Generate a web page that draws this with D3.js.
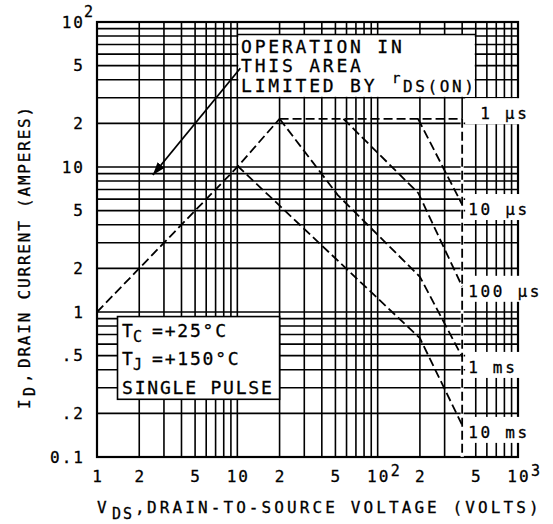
<!DOCTYPE html>
<html lang="en">
<head>
<meta charset="UTF-8">
<title>Maximum Rated Forward Biased Safe Operating Area</title>
<script src="https://d3js.org/d3.v7.min.js"></script>
<style>
  body { margin: 0; background: #fff; }
  text { font-family: "DejaVu Sans Mono", monospace; fill: #000; stroke: #000; stroke-width: 0.3; }
</style>
</head>
<body>
<div id="chart"></div>
<script>
// axis ticks (labels use "|" to split base and exponent)
const xTicks = [1, 2, 5, 10, 20, 50, 100, 200, 500, 1000];
const xTickLabels = ["1", "2", "5", "10", "2", "5", "10|2", "2", "5", "10|3"];
const yTicks = [100, 50, 20, 10, 5, 2, 1, 0.5, 0.2, 0.1];
const yTickLabels = ["10|2", "5", "2", "10", "5", "2", "1", ".5", ".2", "0.1"];

// rDS(on) limit line
const rdsV = [1, 10, 20];
const rdsI = [1, 10, 21.5];
// pulse-width curves (volts, amperes)
const curveNames = ["1 µs", "10 µs", "100 µs", "1 ms", "10 ms"];
const us1V = [20, 400];
const us1I = [21.5, 21.5];
const us10V = [194, 400];
const us10I = [21.5, 5.5];
const us100V = [57, 195, 400];
const us100I = [21.5, 6.6, 1.5];
const ms1V = [20, 52, 200, 400];
const ms1I = [21.5, 6.4, 1.75, 0.49];
const ms10V = [10, 200, 400];
const ms10I = [10.2, 0.66, 0.166];
// BVdss limit (vertical) and label anchors
const vMax = 400;
const iFloor = 0.1;
const labelI = [23.5, 5.13, 1.40, 0.418, 0.149];

const width = 553, height = 524;
const x = d3.scaleLog().domain([1, 1000]).range([97, 518]);
const y = d3.scaleLog().domain([0.1, 100]).range([457, 22]);

const svg = d3.select("#chart").append("svg")
    .attr("width", width)
    .attr("height", height);

// grid
const grid = svg.append("g").attr("stroke", "#000").attr("stroke-width", 1.6);
grid.selectAll(".gx").data(x.ticks()).join("line")
    .attr("x1", d => x(d)).attr("x2", d => x(d))
    .attr("y1", y(100)).attr("y2", y(0.1));
grid.selectAll(".gy").data(y.ticks()).join("line")
    .attr("x1", x(1)).attr("x2", x(1000))
    .attr("y1", d => y(d)).attr("y2", d => y(d));

// white area behind "operation in this area" note
svg.append("rect")
    .attr("x", x(10) + 1).attr("y", y(82))
    .attr("width", x(500) - x(10) - 2).attr("height", y(30) - y(82) - 1)
    .attr("fill", "#fff");
svg.append("line")
    .attr("x1", x(10)).attr("x2", x(500))
    .attr("y1", y(82)).attr("y2", y(82))
    .attr("stroke", "#000").attr("stroke-width", 1.6);

// frame
svg.append("rect")
    .attr("x", x(1)).attr("y", y(100))
    .attr("width", x(1000) - x(1)).attr("height", y(0.1) - y(100))
    .attr("fill", "none").attr("stroke", "#000").attr("stroke-width", 2.2);

// condition box
svg.append("rect")
    .attr("x", x(1.4)).attr("y", y(0.93))
    .attr("width", x(20) - x(1.4)).attr("height", y(0.25) - y(0.93))
    .attr("fill", "#fff").attr("stroke", "#000").attr("stroke-width", 1.6);

// white boxes behind curve labels
svg.selectAll(".lbox").data(labelI).join("rect")
    .attr("x", x(vMax) + 3).attr("y", d => y(d) - 15)
    .attr("width", width - x(vMax) - 3).attr("height", 26)
    .attr("fill", "#fff");

const line = d3.line().x(d => x(d[0])).y(d => y(d[1]));
const curves = [
    [rdsV, rdsI], [us1V, us1I], [us10V, us10I],
    [us100V, us100I], [ms1V, ms1I], [ms10V, ms10I]
];

// vertical voltage limit, hide the grid under it
svg.append("line")
    .attr("x1", x(vMax)).attr("x2", x(vMax))
    .attr("y1", y(us1I[1])).attr("y2", y(iFloor))
    .attr("stroke", "#fff").attr("stroke-width", 3);
svg.append("path")
    .attr("d", line([[vMax, us1I[1]], [vMax, iFloor]]))
    .attr("fill", "none").attr("stroke", "#000")
    .attr("stroke-width", 1.8).attr("stroke-dasharray", "9,4");

svg.selectAll(".curve").data(curves).join("path")
    .attr("d", c => line(c[0].map((v, i) => [v, c[1][i]])))
    .attr("fill", "none")
    .attr("stroke", "#000")
    .attr("stroke-width", 1.8)
    .attr("stroke-dasharray", "9,4");

// arrow
svg.append("defs").append("marker")
    .attr("id", "arr")
    .attr("markerUnits", "userSpaceOnUse")
    .attr("markerWidth", 14).attr("markerHeight", 10)
    .attr("refX", 13).attr("refY", 4.5)
    .attr("orient", "auto")
    .append("path").attr("d", "M0,0 L13,4.5 L0,9 Z").attr("fill", "#000");
svg.append("line")
    .attr("x1", x(10.5)).attr("y1", y(48))
    .attr("x2", x(2.5)).attr("y2", y(8.8))
    .attr("stroke", "#000").attr("stroke-width", 1.8)
    .attr("marker-end", "url(#arr)");

// y tick labels
yTicks.forEach((v, i) => {
    const [base, exp] = yTickLabels[i].split("|");
    svg.append("text")
        .attr("x", 85).attr("y", y(v)).attr("dy", "0.36em")
        .attr("text-anchor", "end")
        .attr("font-size", 16).attr("letter-spacing", 2)
        .text(base);
    if (exp) {
        svg.append("text")
            .attr("x", 84).attr("y", y(v) - 5)
            .attr("font-size", 15)
            .text(exp);
    }
});

// x tick labels
xTicks.forEach((v, i) => {
    const [base, exp] = xTickLabels[i].split("|");
    svg.append("text")
        .attr("x", x(v) + 1).attr("y", 482)
        .attr("text-anchor", "middle")
        .attr("font-size", 16).attr("letter-spacing", 2)
        .text(base);
    if (exp) {
        svg.append("text")
            .attr("x", x(v) + 13).attr("y", 476)
            .attr("font-size", 15)
            .text(exp);
    }
});

// x title
svg.append("text").attr("x", 97).attr("y", 513).attr("font-size", 16).text("V");
svg.append("text").attr("x", 112).attr("y", 519).attr("font-size", 15)
    .attr("letter-spacing", 2).text("DS");
svg.append("text").attr("x", 135).attr("y", 513).attr("font-size", 16).text(",");
svg.append("text").attr("x", 147).attr("y", 513).attr("font-size", 16)
    .attr("letter-spacing", 3.1).text("DRAIN-TO-SOURCE VOLTAGE (VOLTS)");

// y title
const yt = svg.append("g").attr("transform", "translate(29.5,0) rotate(-90)");
yt.append("text").attr("x", -409).attr("y", 0).attr("font-size", 16).text("I");
yt.append("text").attr("x", -396).attr("y", 5).attr("font-size", 15).text("D");
yt.append("text").attr("x", -383).attr("y", 0).attr("font-size", 16).text(",");
yt.append("text").attr("x", -368).attr("y", 0).attr("font-size", 16)
    .attr("letter-spacing", 1.8).text("DRAIN CURRENT (AMPERES)");

// note box text
const note = ["OPERATION IN", "THIS AREA", "LIMITED BY"];
note.forEach((t, i) => {
    svg.append("text")
        .attr("x", 241).attr("y", 52.5 + i * 19.8)
        .attr("font-size", 18).attr("letter-spacing", 2.8)
        .text(t);
});
svg.append("text").attr("x", 392).attr("y", 83).attr("font-size", 14).text("r");
svg.append("text").attr("x", 403).attr("y", 92).attr("font-size", 16)
    .attr("letter-spacing", 2.6).text("DS(ON)");

// condition box text
const cond = [["T", "C", "=+25°C"], ["T", "J", "=+150°C"]];
cond.forEach((c, i) => {
    const by = 337 + i * 28;
    svg.append("text").attr("x", 122).attr("y", by).attr("font-size", 18).text(c[0]);
    svg.append("text").attr("x", 133).attr("y", by + 5).attr("font-size", 15).text(c[1]);
    svg.append("text").attr("x", 152).attr("y", by).attr("font-size", 18)
        .attr("letter-spacing", 1.8).text(c[2]);
});
svg.append("text").attr("x", 122).attr("y", 394).attr("font-size", 18)
    .attr("letter-spacing", 1.8).text("SINGLE PULSE");

// curve labels
svg.selectAll(".clabel").data(curveNames).join("text")
    .attr("x", (d, i) => x(vMax) + (i === 0 ? 18 : 6))
    .attr("y", (d, i) => y(labelI[i]) + 6)
    .attr("font-size", 16).attr("letter-spacing", 2.7)
    .text(d => d);
</script>
</body>
</html>
